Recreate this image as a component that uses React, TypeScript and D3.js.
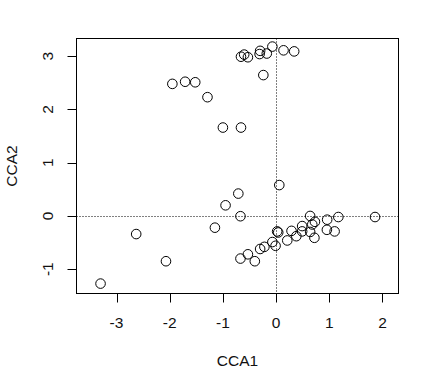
import React from "react";
import * as d3 from "d3";

const cca1: number[] = [
  -3.30, -2.63, -2.07, -1.95, -1.71, -1.52, -1.29, -1.15, -1.00, -0.95,
  -0.71, -0.67, -0.67, -0.66, -0.66, -0.60, -0.53, -0.53, -0.40, -0.31,
  -0.30, -0.30, -0.24, -0.22, -0.175, -0.07, -0.07, -0.01, 0.02, 0.04,
  0.06, 0.14, 0.21, 0.29, 0.34, 0.38, 0.49, 0.49, 0.64, 0.64,
  0.68, 0.73, 0.72, 0.96, 0.955, 1.10, 1.17, 1.86,
];
const cca2: number[] = [
  -1.27, -0.34, -0.85, 2.48, 2.52, 2.51, 2.23, -0.22, 1.66, 0.20,
  0.42, -0.005, -0.80, 1.66, 2.99, 3.03, 2.98, -0.72, -0.85, 3.04,
  3.10, -0.62, 2.645, -0.58, 3.05, 3.18, -0.49, -0.56, -0.29, -0.31,
  0.58, 3.11, -0.46, -0.28, 3.09, -0.38, -0.19, -0.29, 0.00, -0.30,
  -0.16, -0.11, -0.41, -0.07, -0.26, -0.29, -0.02, -0.02,
];
const xTicks: number[] = [-3, -2, -1, 0, 1, 2];
const yTicks: number[] = [-1, 0, 1, 2, 3];
const xLabel = "CCA1";
const yLabel = "CCA2";

export default function App() {
  const W = 437, H = 370;
  const left = 76.5, right = 398.5, top = 38.5, bottom = 293.5;
  const x = d3.scaleLinear().domain([-3.752, 2.301]).range([left, right]);
  const y = d3.scaleLinear().domain([-1.456, 3.332]).range([bottom, top]);
  const font = "'Liberation Sans', Arial, sans-serif";
  const fs = 15.5;
  const col = "#111";
  const pts = cca1.map((v, i) => [v, cca2[i]] as [number, number]);
  return (
    <svg width={W} height={H} style={{ position: "absolute", left: 0, top: 0, background: "#fff" }}
      fontFamily={font}>
      <rect x={0} y={0} width={W} height={H} fill="#fff" />
      <line x1={Math.round(x(0)) + 0.5} x2={Math.round(x(0)) + 0.5} y1={top} y2={bottom}
        stroke="#000" strokeWidth={1} strokeDasharray="1,2" />
      <line x1={left} x2={right} y1={Math.round(y(0)) + 0.5} y2={Math.round(y(0)) + 0.5}
        stroke="#000" strokeWidth={1} strokeDasharray="1,2" />
      {pts.map((p, i) => (
        <circle key={i} cx={x(p[0])} cy={y(p[1])} r={4.8} fill="none" stroke="#000" strokeWidth={1} />
      ))}
      <rect x={left} y={top} width={right - left} height={bottom - top} fill="none" stroke="#000" strokeWidth={1} />
      {xTicks.map((t) => {
        const px = Math.round(x(t)) + 0.5;
        return (
          <g key={"x" + t}>
            <line x1={px} x2={px} y1={bottom} y2={bottom + 9} stroke="#000" />
            <text x={x(t)} y={328} textAnchor="middle" fontSize={fs} fill={col}>{t}</text>
          </g>
        );
      })}
      {yTicks.map((t) => {
        const py = Math.round(y(t)) + 0.5;
        return (
          <g key={"y" + t}>
            <line x1={left - 9} x2={left} y1={py} y2={py} stroke="#000" />
            <text transform={`translate(53,${y(t)}) rotate(-90)`} textAnchor="middle" fontSize={fs} fill={col}>{t}</text>
          </g>
        );
      })}
      <text x={(left + right) / 2} y={366} textAnchor="middle" fontSize={fs} fill={col}>{xLabel}</text>
      <text transform={`translate(17,${(top + bottom) / 2}) rotate(-90)`} textAnchor="middle" fontSize={fs} fill={col}>{yLabel}</text>
    </svg>
  );
}
